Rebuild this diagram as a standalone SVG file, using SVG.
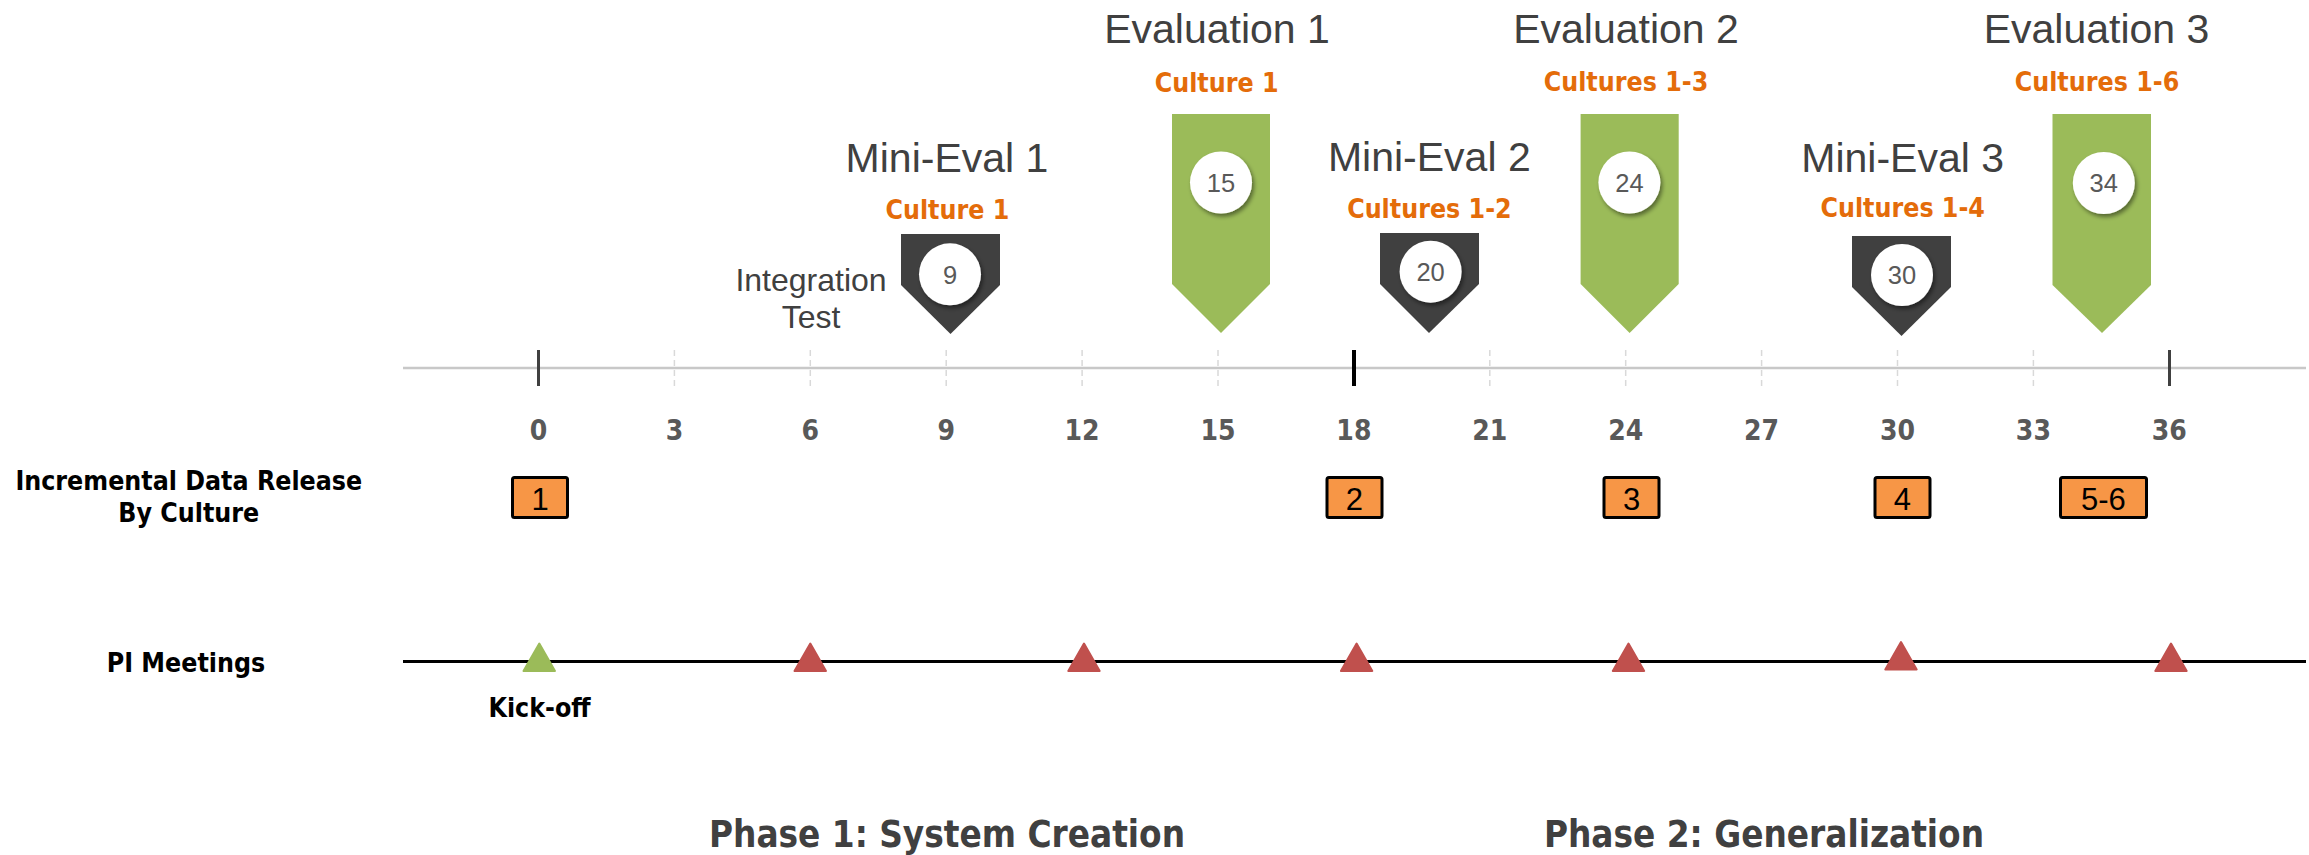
<svg xmlns="http://www.w3.org/2000/svg" width="2309" height="855" viewBox="0 0 2309 855">
<defs>
<style>
.reg{font-family:"Liberation Sans",Arial,sans-serif;}
.bold{font-family:"DejaVu Sans Condensed","DejaVu Sans","Liberation Sans",sans-serif;font-weight:bold;font-stretch:condensed;}
.title{font-size:41px;fill:#404040;text-anchor:middle;}
.cult{font-size:26.5px;fill:#E46C0A;text-anchor:middle;}
.tick{font-size:28px;fill:#595959;text-anchor:middle;}
.num{font-size:25.5px;fill:#595959;text-anchor:middle;}
.box{fill:#F79646;stroke:#000;stroke-width:3;}
.boxt{font-size:31px;fill:#000;text-anchor:middle;}
.green{fill:#9BBB59;}
.dark{fill:#404040;}
.red{fill:#C0504D;stroke:#C0504D;stroke-width:2;stroke-linejoin:round;}
.kick{fill:#9BBB59;stroke:#9BBB59;stroke-width:2;stroke-linejoin:round;}
.circ{fill:#fff;filter:url(#sh);}
.minor{stroke:#D9D9D9;stroke-width:1.5;stroke-dasharray:6 4;}
.lbl{font-size:26.5px;fill:#000;text-anchor:middle;}
.phase{font-size:36.5px;fill:#404040;text-anchor:middle;}
</style>
<filter id="sh" x="-30%" y="-30%" width="170%" height="170%">
<feDropShadow dx="2" dy="3" stdDeviation="2" flood-color="#000" flood-opacity="0.45"/>
</filter>
</defs>
<rect width="2309" height="855" fill="#fff"/>

<g id="connectors">
<line x1="403" y1="368" x2="2306" y2="368" stroke="#C8C8C8" stroke-width="2.5"/>
<g class="minor">
<line x1="674.4" y1="350" x2="674.4" y2="386"/>
<line x1="810.3" y1="350" x2="810.3" y2="386"/>
<line x1="946.2" y1="350" x2="946.2" y2="386"/>
<line x1="1082.1" y1="350" x2="1082.1" y2="386"/>
<line x1="1218" y1="350" x2="1218" y2="386"/>
<line x1="1489.8" y1="350" x2="1489.8" y2="386"/>
<line x1="1625.7" y1="350" x2="1625.7" y2="386"/>
<line x1="1761.6" y1="350" x2="1761.6" y2="386"/>
<line x1="1897.5" y1="350" x2="1897.5" y2="386"/>
<line x1="2033.4" y1="350" x2="2033.4" y2="386"/>
</g>
<line x1="538.5" y1="350" x2="538.5" y2="386" stroke="#404040" stroke-width="3"/>
<line x1="1354" y1="350" x2="1354" y2="386" stroke="#000" stroke-width="4"/>
<line x1="2169.5" y1="350" x2="2169.5" y2="386" stroke="#404040" stroke-width="3"/>
<line x1="403" y1="661.5" x2="2306" y2="661.5" stroke="#000" stroke-width="3"/>
</g>

<g id="tick-labels" class="bold tick">
<text x="538.5" y="440">0</text>
<text x="674.4" y="440">3</text>
<text x="810.3" y="440">6</text>
<text x="946.2" y="440">9</text>
<text x="1082.1" y="440">12</text>
<text x="1218" y="440">15</text>
<text x="1353.9" y="440">18</text>
<text x="1489.8" y="440">21</text>
<text x="1625.7" y="440">24</text>
<text x="1761.6" y="440">27</text>
<text x="1897.5" y="440">30</text>
<text x="2033.4" y="440">33</text>
<text x="2169.3" y="440">36</text>
</g>

<g id="integration-test">
<text class="reg" x="811" y="291" font-size="32" fill="#404040" text-anchor="middle">Integration</text>
<text class="reg" x="811" y="328" font-size="32" fill="#404040" text-anchor="middle">Test</text>
</g>

<g id="mini-eval-1">
<text class="reg title" x="947" y="171.7">Mini-Eval 1</text>
<text class="bold cult" x="947.4" y="219">Culture 1</text>
<polygon class="dark" points="901,234 1000,234 1000,285 950.5,334 901,285"/>
<circle class="circ" cx="950" cy="274.3" r="31"/>
<text class="reg num" x="950" y="283.5">9</text>
</g>

<g id="evaluation-1">
<text class="reg title" x="1217" y="43">Evaluation 1</text>
<text class="bold cult" x="1216.6" y="91.7">Culture 1</text>
<polygon class="green" points="1172,114 1270,114 1270,284 1221,333 1172,284"/>
<circle class="circ" cx="1221" cy="182.5" r="31"/>
<text class="reg num" x="1221" y="191.7">15</text>
</g>

<g id="mini-eval-2">
<text class="reg title" x="1429.3" y="170.7">Mini-Eval 2</text>
<text class="bold cult" x="1429.4" y="218.3">Cultures 1-2</text>
<polygon class="dark" points="1380,233 1479,233 1479,284 1429,333 1380,284"/>
<circle class="circ" cx="1430.6" cy="271.7" r="31"/>
<text class="reg num" x="1430.6" y="280.9">20</text>
</g>

<g id="evaluation-2">
<text class="reg title" x="1626" y="43">Evaluation 2</text>
<text class="bold cult" x="1626" y="91">Cultures 1-3</text>
<polygon class="green" points="1580.6,114 1678.7,114 1678.7,284 1629.6,333 1580.6,284"/>
<circle class="circ" cx="1629.4" cy="182.5" r="31"/>
<text class="reg num" x="1629.4" y="191.7">24</text>
</g>

<g id="mini-eval-3">
<text class="reg title" x="1902.7" y="171.7">Mini-Eval 3</text>
<text class="bold cult" x="1902.7" y="217.3">Cultures 1-4</text>
<polygon class="dark" points="1852,236 1951,236 1951,287 1901.5,336 1852,287"/>
<circle class="circ" cx="1902" cy="275" r="31"/>
<text class="reg num" x="1902" y="284.2">30</text>
</g>

<g id="evaluation-3">
<text class="reg title" x="2096.5" y="43">Evaluation 3</text>
<text class="bold cult" x="2097" y="91">Cultures 1-6</text>
<polygon class="green" points="2052.5,114 2151,114 2151,285 2102,333 2052.5,285"/>
<circle class="circ" cx="2103.8" cy="183" r="31"/>
<text class="reg num" x="2103.8" y="192.2">34</text>
</g>

<g id="row-labels">
<text class="bold lbl" x="188.8" y="490">Incremental Data Release</text>
<text class="bold lbl" x="188.8" y="521.7">By Culture</text>
<text class="bold lbl" x="186" y="671.7">PI Meetings</text>
</g>

<g id="release-1">
<rect class="box" x="512.5" y="477.5" width="55" height="40" rx="2"/>
<text class="reg boxt" x="540" y="510">1</text>
</g>
<g id="release-2">
<rect class="box" x="1327" y="477.5" width="55" height="40" rx="2"/>
<text class="reg boxt" x="1354.3" y="510">2</text>
</g>
<g id="release-3">
<rect class="box" x="1604" y="477.5" width="55" height="40" rx="2"/>
<text class="reg boxt" x="1631.5" y="510">3</text>
</g>
<g id="release-4">
<rect class="box" x="1875" y="477.5" width="55" height="40" rx="2"/>
<text class="reg boxt" x="1902.3" y="510">4</text>
</g>
<g id="release-5-6">
<rect class="box" x="2060.5" y="477.5" width="86" height="40" rx="2"/>
<text class="reg boxt" x="2103.4" y="510">5-6</text>
</g>

<g id="pi-kickoff">
<polygon class="kick" points="539.3,643.5 555,671 523.5,671"/>
<text class="bold lbl" x="539.6" y="717.3">Kick-off</text>
</g>
<g id="pi-6"><polygon class="red" points="810.3,643.5 826,671 794.5,671"/></g>
<g id="pi-12"><polygon class="red" points="1084,643.5 1099.7,671 1068.3,671"/></g>
<g id="pi-18"><polygon class="red" points="1356.6,643.5 1372.3,671 1340.9,671"/></g>
<g id="pi-24"><polygon class="red" points="1628.5,643.5 1644.2,671 1612.8,671"/></g>
<g id="pi-30"><polygon class="red" points="1901,642 1916.7,669.5 1885.3,669.5"/></g>
<g id="pi-36"><polygon class="red" points="2171,643.5 2186.7,671 2155.3,671"/></g>

<g id="phases">
<text class="bold phase" x="947" y="846.7">Phase 1: System Creation</text>
<text class="bold phase" x="1764" y="846.7">Phase 2: Generalization</text>
</g>
</svg>
